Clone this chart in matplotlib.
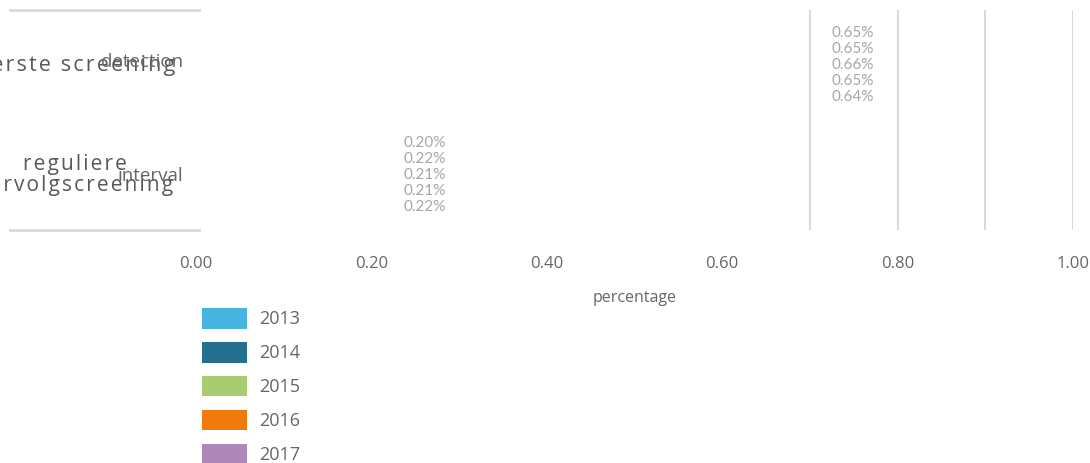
import matplotlib
matplotlib.use("Agg")
import matplotlib.pyplot as plt
from matplotlib.lines import Line2D

# ---- data ----
years = ["2013", "2014", "2015", "2016", "2017"]
categories = ["detection", "interval"]
group_labels = ["eerste screening", "reguliere\nvervolgscreening"]
detection = [0.65, 0.65, 0.66, 0.65, 0.64]
interval = [0.20, 0.22, 0.21, 0.21, 0.22]
xticks = [0.0, 0.2, 0.4, 0.6, 0.8, 1.0]
grid_vals = [0.7, 0.8, 0.9, 1.0]
colors = ["#45b4e1", "#23708e", "#a8cc6f", "#f07b0a", "#b087b9"]

# layout (label block x positions, data units)
label_x = [0.749, 0.261]

FAM = ["Open Sans", "DejaVu Sans"]


def spaced(s):
    return "\n".join("\u200a".join(ch for ch in line) for line in s.split("\n"))


W, H = 1090, 463
fig = plt.figure(figsize=(W / 100, H / 100), dpi=100)
ax = fig.add_axes([196 / W, 1 - 230 / H, (1073 - 196) / W, 220 / H])

series = list(zip(*[detection, interval]))  # per year
ypos = [0, 1]
handles = []
for i, (yr, vals) in enumerate(zip(years, series)):
    b = ax.barh(ypos, vals, height=0.0, color=colors[i], linewidth=0, label=yr)
    handles.append(b)

ax.set_xlim(0, 1.0)
ax.set_ylim(1.5, -0.5)
for g in grid_vals:
    ax.axvline(g, color="#d9d9d9", lw=1.5, zorder=0)

for s in ax.spines.values():
    s.set_visible(False)
ax.set_yticks([])
ax.set_xticks(xticks)
ax.set_xticklabels([f"{t:.2f}" for t in xticks], fontsize=12, color="#666666",
                   family=FAM)
ax.tick_params(axis="x", length=0, pad=19)
ax.set_xlabel("percentage", fontsize=11.5, color="#666666", labelpad=13,
              family=FAM)

# value labels
for ci, vals in enumerate([detection, interval]):
    txt = "\n".join(f"{v:.2f}%" for v in vals)
    ax.text(label_x[ci], ypos[ci], txt, ha="center", va="center", fontsize=11,
            color="#a6a6a6", linespacing=1.16, family=["Lato", "DejaVu Sans"])

# category lines in the label area
for yy in [10, 230]:
    fig.add_artist(Line2D([10 / W, 199 / W], [1 - yy / H, 1 - yy / H],
                          color="#d9d9d9", lw=2, transform=fig.transFigure))

# category labels
fig.text(175 / W, 1 - 66 / H, spaced(group_labels[0]), ha="right", va="center",
         fontsize=15.5, color="#595959", family=FAM)
fig.text(75 / W, 1 - 175 / H, spaced(group_labels[1]), ha="center", va="center",
         fontsize=15, color="#595959", linespacing=0.95, family=FAM)
fig.text(183 / W, 1 - 62 / H, categories[0], ha="right", va="center",
         fontsize=13.5, color="#666666", family=FAM)
fig.text(183 / W, 1 - 176 / H, categories[1], ha="right", va="center",
         fontsize=13.5, color="#666666", family=FAM)

leg = fig.legend(handles=handles, labels=years, loc="upper left",
                 bbox_to_anchor=(186 / W, 1 - 292 / H), frameon=False,
                 handlelength=2.5, handleheight=1.35,
                 labelspacing=0.76, handletextpad=0.65,
                 prop={"family": FAM, "size": 13})
for t in leg.get_texts():
    t.set_color("#666666")

fig.savefig("out.png", dpi=100)
